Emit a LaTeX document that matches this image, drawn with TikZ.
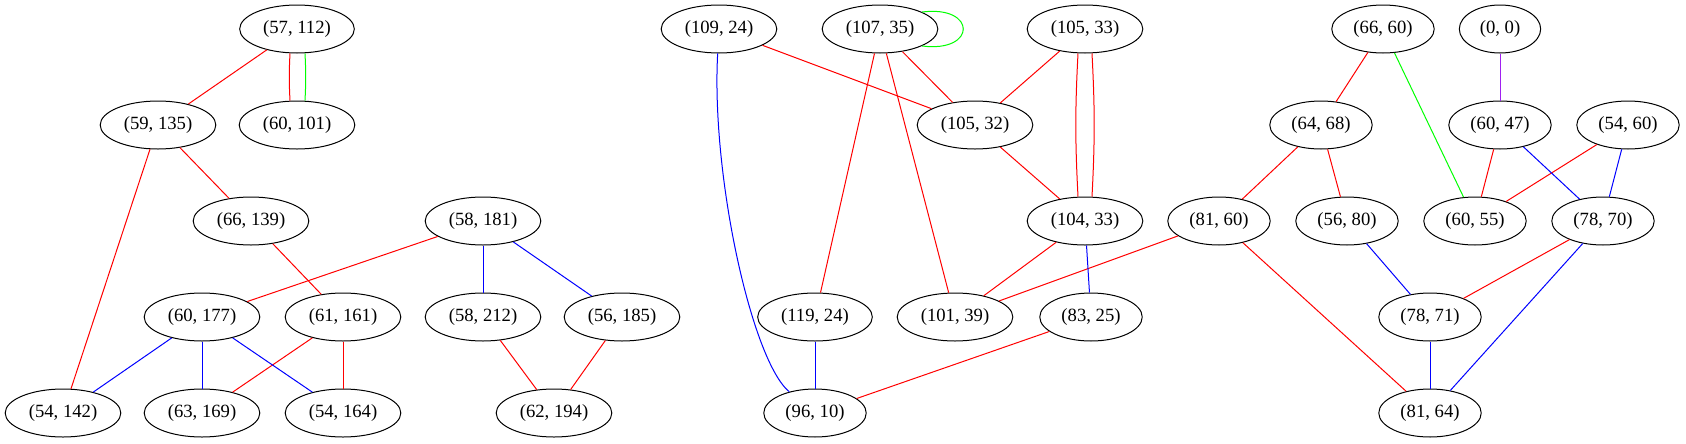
\documentclass[tikz,border=0pt]{standalone}
\usepackage{fontspec}
\setmainfont{Liberation Serif}
\usetikzlibrary{shapes}
\definecolor{gvpurple}{HTML}{A020F0}

\begin{document}
\begin{tikzpicture}[x=0.75pt,y=-0.75pt]
		\tikzstyle{vertex}=[ellipse,draw,line width=0.75pt,minimum width=61pt,
                  minimum height=36pt,inner xsep=5pt,inner ysep=0pt,font=\fontsize{14}{16}\selectfont]
		\tikzstyle{rd}=[draw=red,line width=0.75pt]
		\tikzstyle{bl}=[draw=blue,line width=0.75pt]
		\tikzstyle{gr}=[draw=green,line width=0.75pt]
		\tikzstyle{pu}=[draw=gvpurple,line width=0.75pt]

		\useasboundingbox (0,0) rectangle (1686,443);

     	\foreach \a/\b/\x in {57/112/297, 109/24/719, 107/35/880, 105/33/1085, 66/60/1383, 0/0/1500}
       		\node[vertex] (p\a-\b) at (\x,29) {(\a, \b)};

     	\foreach \a/\b/\x in {59/135/158, 60/101/297, 105/32/975, 64/68/1321, 60/47/1500, 54/60/1628}
       		\node[vertex] (p\a-\b) at (\x,125) {(\a, \b)};

     	\foreach \a/\b/\x in {66/139/251, 58/181/483, 104/33/1085, 81/60/1219, 56/80/1347, 60/55/1475, 78/70/1603}
       		\node[vertex] (p\a-\b) at (\x,221) {(\a, \b)};

     	\foreach \a/\b/\x in {60/177/202, 61/161/343, 58/212/483, 56/185/622, 119/24/815, 101/39/955, 83/25/1091, 78/71/1430}
       		\node[vertex] (p\a-\b) at (\x,317) {(\a, \b)};

     	\foreach \a/\b/\x in {54/142/63, 63/169/202, 54/164/343, 62/194/554, 96/10/815, 81/64/1430}
       		\node[vertex] (p\a-\b) at (\x,413) {(\a, \b)};

        % edges

        \foreach \s/\t in {p57-112/p59-135, p59-135/p66-139, p59-135/p54-142, p66-139/p61-161,
                p58-181/p60-177, p61-161/p63-169, p61-161/p54-164, p58-212/p62-194, p56-185/p62-194,
                p109-24/p105-32, p107-35/p105-32, p107-35/p119-24, p107-35/p101-39, p105-33/p105-32,
                p105-32/p104-33, p104-33/p101-39, p81-60/p101-39, p81-60/p81-64, p83-25/p96-10,
                p66-60/p64-68, p64-68/p81-60, p64-68/p56-80, p60-47/p60-55, p54-60/p60-55, p78-70/p78-71}
            \draw [rd] (\s) -- (\t);

        \foreach \s/\t in {p58-181/p58-212, p58-181/p56-185, p60-177/p54-142, p60-177/p63-169,
                p60-177/p54-164, p104-33/p83-25, p119-24/p96-10, p60-47/p78-70, p54-60/p78-70,
                p56-80/p78-71, p78-70/p81-64, p78-71/p81-64}
            \draw [bl] (\s) -- (\t);

        \draw [gr] (p66-60) -- (p60-55);
        \draw [pu] (p0-0) -- (p60-47);

        % double edges and loop
        \draw [rd] ([xshift=-5.25pt]p57-112.south) to[bend right=3] ([xshift=-5.25pt]p60-101.north);
        \draw [gr] ([xshift=6pt]p57-112.south) to[bend left=3] ([xshift=6pt]p60-101.north);
        \draw [rd] ([xshift=-5.25pt]p105-33.south) to[bend right=3] ([xshift=-5.25pt]p104-33.north);
        \draw [rd] ([xshift=5.25pt]p105-33.south) to[bend left=3] ([xshift=5.25pt]p104-33.north);
        \draw [gr] (p107-35.22) .. controls +(55,-7) and +(55,7) .. (p107-35.-22);
        \draw [bl] (p109-24) .. controls +(-8,147) and +(-63,-52) .. (p96-10);

\end{tikzpicture}
\end{document}
